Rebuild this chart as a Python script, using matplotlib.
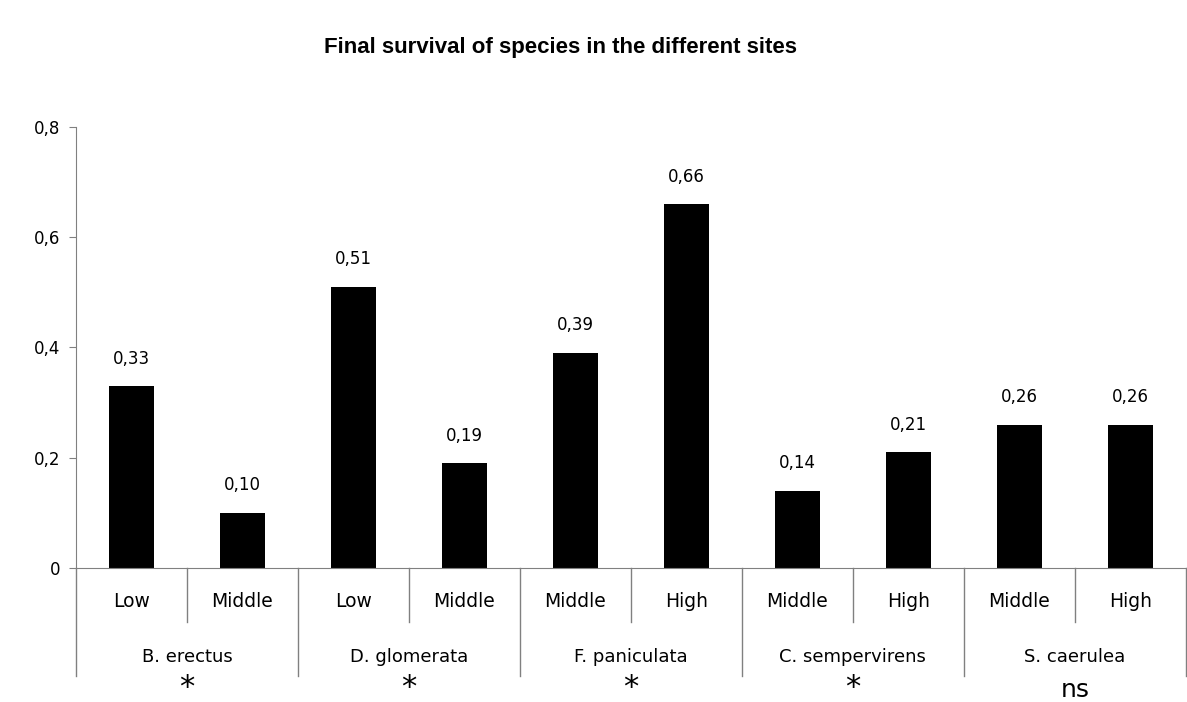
import matplotlib.pyplot as plt
import matplotlib.transforms as mtransforms

# survival per species and site
species = ["B. erectus", "D. glomerata", "F. paniculata", "C. sempervirens", "S. caerulea"]
sites = ["Low", "Middle", "Low", "Middle", "Middle", "High", "Middle", "High", "Middle", "High"]
survival = [0.33, 0.10, 0.51, 0.19, 0.39, 0.66, 0.14, 0.21, 0.26, 0.26]
signif = ["*", "*", "*", "*", "ns"]

plt.rcParams["font.family"] = ["DejaVu Sans"]

fig = plt.figure(figsize=(11.87, 7.02), dpi=100)
ax = fig.add_axes([0.064, 0.191, 0.935, 0.628])

x = list(range(len(survival)))
ax.bar(x, survival, width=0.41, color="black")
for xi, v in zip(x, survival):
    ax.text(xi, v + 0.05, f"{v:.2f}".replace(".", ","), ha="center", va="center", fontsize=12)

ax.set_xlim(-0.5, len(survival) - 0.5)
ax.set_ylim(0, 0.8)
ax.set_yticks([0, 0.2, 0.4, 0.6, 0.8])
ax.set_yticklabels(["0", "0,2", "0,4", "0,6", "0,8"], fontsize=12)
ax.set_xticks([])
ax.tick_params(axis="y", length=5, color="#808080", pad=6)

for side in ["top", "right"]:
    ax.spines[side].set_visible(False)
for side in ["left", "bottom"]:
    ax.spines[side].set_color("#808080")

# two-level category axis below the bars
trans = mtransforms.blended_transform_factory(ax.transData, ax.transAxes)
for i in range(len(species)):
    ax.plot([2 * i + 0.5] * 2, [0, -0.122], color="#808080", lw=1, transform=trans, clip_on=False)
for b in range(len(species) + 1):
    ax.plot([2 * b - 0.5] * 2, [0, -0.245], color="#808080", lw=1, transform=trans, clip_on=False)

for xi, s in zip(x, sites):
    ax.text(xi, -0.077, s, ha="center", va="center", fontsize=13.5, transform=trans)
for i, (sp, sg) in enumerate(zip(species, signif)):
    ax.text(2 * i + 0.5, -0.202, sp, ha="center", va="center", fontsize=13, transform=trans)
    if sg == "*":
        ax.text(2 * i + 0.5, -0.272, sg, ha="center", va="center", fontsize=22, transform=trans)
    else:
        ax.text(2 * i + 0.5, -0.277, sg, ha="center", va="center", fontsize=18, transform=trans)

fig.text(0.472, 0.933, "Final survival of species in the different sites",
         ha="center", va="center", fontsize=16, fontweight="bold",
         family=["Liberation Sans", "DejaVu Sans"])

fig.savefig("out.png", dpi=100)
